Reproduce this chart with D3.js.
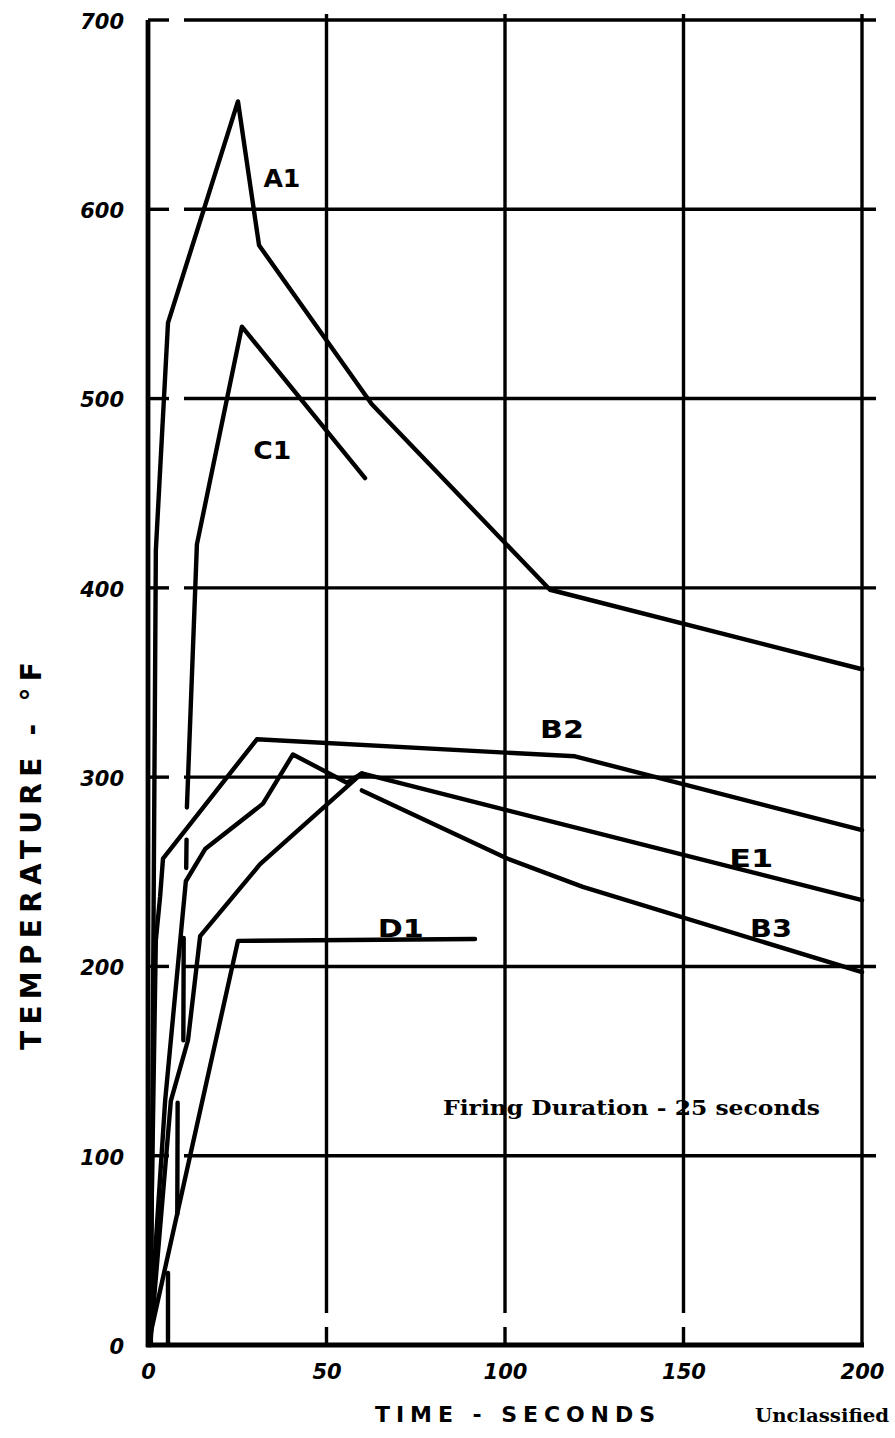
<!DOCTYPE html>
<html>
<head>
<meta charset="utf-8">
<script src="https://cdn.jsdelivr.net/npm/d3@7/dist/d3.min.js"></script>
<style>
  html, body { margin: 0; padding: 0; background: #fff; }
  svg { display: block; }
</style>
</head>
<body>
<script>
// Temperature histories (°F) against time (s) for six thermocouple stations.
// null entries mark breaks in a drawn line.
const xTicks = [0, 50, 100, 150, 200];
const yTicks = [0, 100, 200, 300, 400, 500, 600, 700];

const seriesA1 = [[0.8, 0], [2.2, 420], [5.6, 540], [25.2, 657], [31.1, 581], [62.7, 497], [112.6, 399], [200, 357]];
const seriesC1 = [[5.6, 0], [5.6, 38], null, [8.2, 69], [8.3, 128], null, [9.9, 161], [10.0, 215], null,
                  [10.7, 252], [10.8, 267], null, [10.9, 284], [13.7, 423], [26.3, 538], [60.8, 458]];
const seriesB2 = [[0.4, 0], [2.2, 214], [3.4, 237], [4.2, 257], [30.5, 320], [119.6, 311], [200, 272]];
const seriesE1 = [[0.3, 0], [4.8, 129], [10.6, 245], [16.0, 262], [32.2, 286], [40.6, 312], [55.7, 297], [59.9, 302], [200, 235]];
const seriesB3 = [[0.6, 0], [6.4, 129], [11.2, 161], [14.6, 216], [31.4, 254], [59.9, 302], null,
                  [59.9, 293], [100.6, 257], [121.8, 242], [200, 197]];
const seriesD1 = [[0, 0], [25.2, 213.5], [91.6, 214.5]];

const seriesNames = ["A1", "C1", "B2", "E1", "B3", "D1"];
const seriesData = [seriesA1, seriesC1, seriesB2, seriesE1, seriesB3, seriesD1];

const W = 895, H = 1438;
const svg = d3.select("body").append("svg").attr("width", W).attr("height", H);

const x = d3.scaleLinear().domain([0, 200]).range([148, 862]);
const y = d3.scaleLinear().domain([0, 700]).range([1345, 20]);

const ink = "#000";
const grid = svg.append("g").attr("stroke", ink).attr("stroke-linecap", "butt");

// Horizontal rules: short stub at the axis, a gap, then the full rule.
yTicks.filter(d => d > 0).forEach(d => {
  grid.append("line").attr("x1", x(0)).attr("x2", x(0) + 21)
    .attr("y1", y(d)).attr("y2", y(d)).attr("stroke-width", 3.4);
  grid.append("line").attr("x1", x(0) + 36).attr("x2", x(200) + 14)
    .attr("y1", y(d)).attr("y2", y(d)).attr("stroke-width", 3.4);
});

// Vertical rules: break just above the time axis (except the last one).
xTicks.filter(d => d > 0).forEach(d => {
  if (d < 200) {
    grid.append("line").attr("x1", x(d)).attr("x2", x(d))
      .attr("y1", y(700) - 6).attr("y2", y(0) - 32).attr("stroke-width", 3.4);
    grid.append("line").attr("x1", x(d)).attr("x2", x(d))
      .attr("y1", y(0) - 18).attr("y2", y(0)).attr("stroke-width", 3.4);
  } else {
    grid.append("line").attr("x1", x(d)).attr("x2", x(d))
      .attr("y1", y(700) - 6).attr("y2", y(0)).attr("stroke-width", 3.4);
  }
});

// Axis lines
grid.append("line").attr("x1", x(0)).attr("x2", x(0))
  .attr("y1", y(700)).attr("y2", y(0) + 2).attr("stroke-width", 4.8);
grid.append("line").attr("x1", x(0) - 2).attr("x2", x(200) + 2)
  .attr("y1", y(0)).attr("y2", y(0)).attr("stroke-width", 4.8);

// Tick labels
const tickFont = g => g.selectAll("text")
  .attr("font-family", "'DejaVu Sans', sans-serif")
  .attr("font-weight", "bold").attr("font-style", "italic")
  .attr("font-size", 21).attr("fill", ink);

svg.append("g").attr("transform", `translate(${x(0)},0)`)
  .call(d3.axisLeft(y).tickValues(yTicks).tickSize(0).tickPadding(24))
  .call(g => g.select(".domain").remove())
  .call(tickFont)
  .call(g => g.selectAll("text").attr("dy", "0.4em"));

svg.append("g").attr("transform", `translate(0,${y(0)})`)
  .call(d3.axisBottom(x).tickValues(xTicks).tickSize(0).tickPadding(19))
  .call(g => g.select(".domain").remove())
  .call(tickFont);

// Curves
const line = d3.line()
  .defined(d => d !== null)
  .x(d => x(d[0])).y(d => y(d[1]));

svg.append("g").selectAll("path")
  .data(seriesData)
  .join("path")
  .attr("d", d => line(d))
  .attr("fill", "none").attr("stroke", ink)
  .attr("stroke-width", 4.4)
  .attr("stroke-linejoin", "round").attr("stroke-linecap", "round");

// Curve labels, anchored in data units
const labelAnchors = {
  A1: [37.5, 612], C1: [34.8, 468], B2: [116, 320.5], E1: [169, 252.5],
  B3: [174.5, 215.5], D1: [70.8, 215.5]
};
const labelWidths = { A1: 37, C1: 38, B2: 44, E1: 44, B3: 42, D1: 46 };

svg.append("g").selectAll("text")
  .data(seriesNames)
  .join("text")
  .attr("x", d => x(labelAnchors[d][0]))
  .attr("y", d => y(labelAnchors[d][1]))
  .attr("text-anchor", "middle")
  .attr("font-family", "'DejaVu Sans', sans-serif")
  .attr("font-weight", "bold").attr("font-size", 25)
  .attr("textLength", d => labelWidths[d])
  .attr("lengthAdjust", "spacingAndGlyphs")
  .attr("fill", ink)
  .text(d => d);

// Axis titles and notes
svg.append("text")
  .attr("transform", "translate(41,856) rotate(-90)")
  .attr("text-anchor", "middle")
  .attr("font-family", "'DejaVu Sans', sans-serif")
  .attr("font-weight", "bold").attr("font-size", 28)
  .attr("textLength", 388).attr("lengthAdjust", "spacing")
  .attr("fill", ink)
  .text("TEMPERATURE - °F");

svg.append("text")
  .attr("x", 515).attr("y", 1422)
  .attr("text-anchor", "middle")
  .attr("font-family", "'DejaVu Sans', sans-serif")
  .attr("font-weight", "bold").attr("font-size", 22)
  .attr("textLength", 280).attr("lengthAdjust", "spacing")
  .attr("fill", ink)
  .text("TIME - SECONDS");

svg.append("text")
  .attr("x", 443).attr("y", 1115)
  .attr("font-family", "'DejaVu Serif Condensed', 'DejaVu Serif', serif")
  .attr("font-stretch", "condensed")
  .attr("font-weight", "bold").attr("font-size", 20)
  .attr("textLength", 377).attr("lengthAdjust", "spacingAndGlyphs")
  .attr("fill", ink)
  .text("Firing Duration - 25 seconds");

svg.append("text")
  .attr("x", 755).attr("y", 1422)
  .attr("font-family", "'DejaVu Serif Condensed', 'DejaVu Serif', serif")
  .attr("font-stretch", "condensed")
  .attr("font-weight", "bold").attr("font-size", 19)
  .attr("textLength", 134).attr("lengthAdjust", "spacingAndGlyphs")
  .attr("fill", ink)
  .text("Unclassified");
</script>
</body>
</html>
